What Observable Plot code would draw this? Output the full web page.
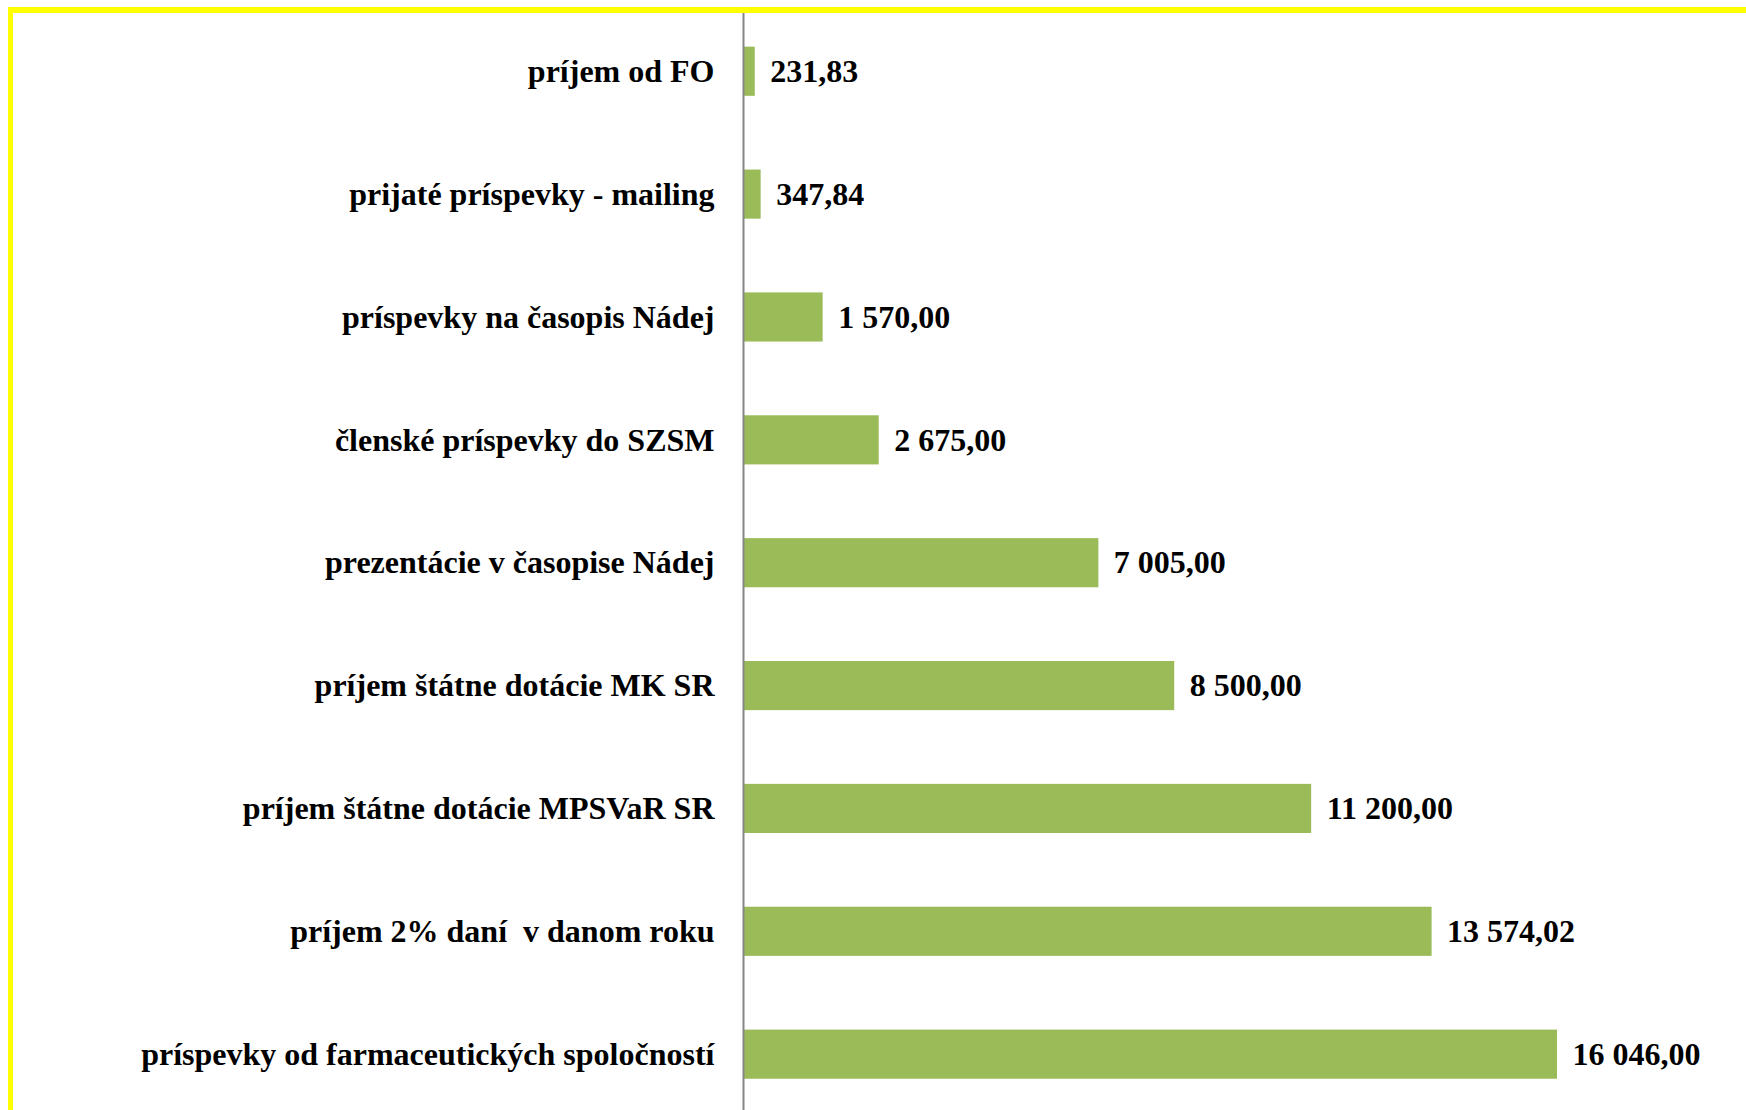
<!DOCTYPE html>
<html>
<head>
<meta charset="utf-8">
<script src="https://cdn.jsdelivr.net/npm/d3@7"></script>
<script src="https://cdn.jsdelivr.net/npm/@observablehq/plot@0.6"></script>
<style>
  html, body { margin: 0; padding: 0; background: #fff; }
  #wrap { position: relative; width: 1746px; height: 1110px; overflow: hidden; }
  #border { position: absolute; left: 8px; top: 7px; width: 1800px; height: 1200px;
            border-top: 6px solid #FFFF00; border-left: 5px solid #FFFF00; box-sizing: border-box; }
  #chart { position: absolute; left: 0; top: 0; }
</style>
</head>
<body>
<div id="wrap">
  <div id="chart"></div>
  <div id="border"></div>
</div>
<script>
const categories = [
  "príjem od FO",
  "prijaté príspevky - mailing",
  "príspevky na časopis Nádej",
  "členské príspevky do SZSM",
  "prezentácie v časopise Nádej",
  "príjem štátne dotácie MK SR",
  "príjem štátne dotácie MPSVaR SR",
  "príjem 2% daní  v danom roku",
  "príspevky od farmaceutických spoločností"
];
const values = [231.83, 347.84, 1570.00, 2675.00, 7005.00, 8500.00, 11200.00, 13574.02, 16046.00];

const data = categories.map((c, i) => ({category: c, value: values[i]}));

const locale = d3.formatLocale({decimal: ",", thousands: " ", grouping: [3], currency: ["", ""]});
const fmt = locale.format(",.2f");

const chart = Plot.plot({
  width: 1746,
  height: 1110,
  marginLeft: 743,
  marginRight: 189,
  marginTop: 12,
  marginBottom: 0,
  style: {fontFamily: "'Liberation Serif', 'Times New Roman', serif", fontWeight: "bold", fontSize: "32px", color: "#000", background: "transparent"},
  x: {domain: [0, d3.max(values)], axis: null},
  y: {domain: categories, range: [9.8, 1115.6], paddingInner: 0.6, paddingOuter: 0.3, round: false, label: null},
  marks: [
    Plot.barX(data, {x: "value", y: "category", fill: "#9BBB59"}),
    Plot.ruleX([0], {stroke: "#868686", strokeWidth: 2}),
    Plot.axisY({tickSize: 0, tickPadding: 29, label: null, fontSize: 32, fontWeight: "bold"}),
    Plot.text(data, {x: "value", y: "category", text: d => fmt(d.value), textAnchor: "start", dx: 15, fontSize: 32, fontWeight: "bold", fill: "#000"})
  ]
});
document.getElementById("chart").appendChild(chart);
</script>
</body>
</html>
